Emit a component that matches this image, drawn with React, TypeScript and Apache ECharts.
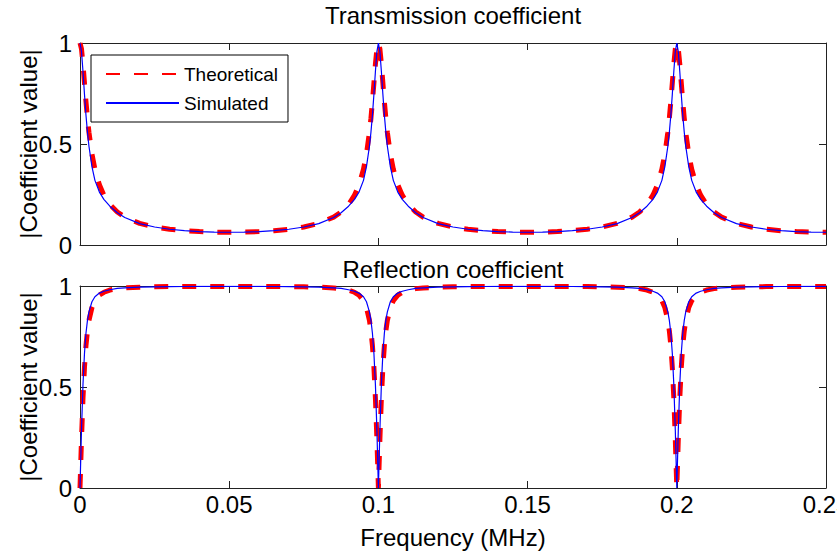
import React, { useEffect, useRef } from "react";
import * as echarts from "echarts";

// Frequency samples (MHz), denser near the resonances
const frequency = [
  0, 0.0005, 0.001, 0.0015, 0.002, 0.0025, 0.003, 0.004, 0.005, 0.0065, 0.008, 0.01, 0.0125, 0.015, 0.02, 0.025, 0.03, 0.035, 0.04, 0.045, 0.05,
  0.055, 0.06, 0.065, 0.07, 0.075, 0.08, 0.085, 0.0875, 0.09, 0.092, 0.0935, 0.095, 0.096, 0.097, 0.0975, 0.098, 0.0985, 0.099, 0.0995, 0.1,
  0.1005, 0.101, 0.1015, 0.102, 0.1025, 0.103, 0.104, 0.105, 0.1065, 0.108, 0.11, 0.1125, 0.115, 0.12, 0.125, 0.13, 0.135, 0.14, 0.145, 0.15,
  0.155, 0.16, 0.165, 0.17, 0.175, 0.18, 0.185, 0.1875, 0.19, 0.192, 0.1935, 0.195, 0.196, 0.197, 0.1975, 0.198, 0.1985, 0.199, 0.1995, 0.2,
  0.2005, 0.201, 0.2015, 0.202, 0.2025, 0.203, 0.204, 0.205, 0.2065, 0.208, 0.21, 0.2125, 0.215, 0.22, 0.225, 0.23, 0.235, 0.24, 0.245, 0.25,
];

const transTheoretical = [
  1, 0.9705, 0.8956, 0.8019, 0.7097, 0.6276, 0.5578, 0.4506, 0.3748, 0.2977, 0.2465, 0.2005, 0.1631, 0.138, 0.107, 0.0891, 0.0779, 0.0708, 0.0664, 0.0639, 0.0631,
  0.0639, 0.0664, 0.0708, 0.0779, 0.0891, 0.107, 0.138, 0.1631, 0.2005, 0.2465, 0.2977, 0.3748, 0.4506, 0.5578, 0.6276, 0.7097, 0.8019, 0.8956, 0.9705, 1,
  0.9705, 0.8956, 0.8019, 0.7097, 0.6276, 0.5578, 0.4506, 0.3748, 0.2977, 0.2465, 0.2005, 0.1631, 0.138, 0.107, 0.0891, 0.0779, 0.0708, 0.0664, 0.0639, 0.0631,
  0.0639, 0.0664, 0.0708, 0.0779, 0.0891, 0.107, 0.138, 0.1631, 0.2005, 0.2465, 0.2977, 0.3748, 0.4506, 0.5578, 0.6276, 0.7097, 0.8019, 0.8956, 0.9705, 1,
  0.9705, 0.8956, 0.8019, 0.7097, 0.6276, 0.5578, 0.4506, 0.3748, 0.2977, 0.2465, 0.2005, 0.1631, 0.138, 0.107, 0.0891, 0.0779, 0.0708, 0.0664, 0.0639, 0.0631,
];

const transSimulated = [
  1, 0.958, 0.859, 0.746, 0.643, 0.558, 0.489, 0.388, 0.32, 0.262, 0.226, 0.192, 0.16, 0.136, 0.106, 0.089, 0.078, 0.071, 0.066, 0.064, 0.063,
  0.064, 0.066, 0.071, 0.078, 0.089, 0.106, 0.136, 0.16, 0.192, 0.226, 0.262, 0.32, 0.388, 0.489, 0.558, 0.643, 0.746, 0.859, 0.958, 1,
  0.958, 0.859, 0.746, 0.643, 0.558, 0.489, 0.388, 0.32, 0.262, 0.226, 0.192, 0.16, 0.136, 0.106, 0.089, 0.078, 0.071, 0.066, 0.064, 0.063,
  0.064, 0.066, 0.071, 0.078, 0.089, 0.106, 0.136, 0.16, 0.192, 0.226, 0.262, 0.32, 0.388, 0.489, 0.558, 0.643, 0.746, 0.859, 0.958, 1,
  0.958, 0.859, 0.746, 0.643, 0.558, 0.489, 0.388, 0.32, 0.262, 0.226, 0.192, 0.16, 0.136, 0.106, 0.089, 0.078, 0.071, 0.066, 0.064, 0.063,
];

const reflTheoretical = [
  0, 0.241, 0.445, 0.597, 0.705, 0.778, 0.83, 0.893, 0.927, 0.955, 0.969, 0.98, 0.987, 0.9905, 0.9943, 0.996, 0.997, 0.9975, 0.9978, 0.998, 0.998,
  0.998, 0.9978, 0.9975, 0.997, 0.996, 0.9943, 0.9905, 0.987, 0.98, 0.969, 0.955, 0.927, 0.893, 0.83, 0.778, 0.705, 0.597, 0.445, 0.241, 0,
  0.241, 0.445, 0.597, 0.705, 0.778, 0.83, 0.893, 0.927, 0.955, 0.969, 0.98, 0.987, 0.9905, 0.9943, 0.996, 0.997, 0.9975, 0.9978, 0.998, 0.998,
  0.998, 0.9978, 0.9975, 0.997, 0.996, 0.9943, 0.9905, 0.987, 0.98, 0.969, 0.955, 0.927, 0.893, 0.83, 0.778, 0.705, 0.597, 0.445, 0.241, 0,
  0.241, 0.445, 0.597, 0.705, 0.778, 0.83, 0.893, 0.927, 0.955, 0.969, 0.98, 0.987, 0.9905, 0.9943, 0.996, 0.997, 0.9975, 0.9978, 0.998, 0.998,
];

const reflSimulated = [
  0, 0.286, 0.512, 0.666, 0.766, 0.83, 0.872, 0.922, 0.947, 0.965, 0.974, 0.9815, 0.988, 0.991, 0.9945, 0.996, 0.997, 0.9975, 0.9978, 0.998, 0.998,
  0.998, 0.9978, 0.9975, 0.997, 0.996, 0.9945, 0.991, 0.988, 0.9815, 0.974, 0.965, 0.947, 0.922, 0.872, 0.83, 0.766, 0.666, 0.512, 0.286, 0,
  0.286, 0.512, 0.666, 0.766, 0.83, 0.872, 0.922, 0.947, 0.965, 0.974, 0.9815, 0.988, 0.991, 0.9945, 0.996, 0.997, 0.9975, 0.9978, 0.998, 0.998,
  0.998, 0.9978, 0.9975, 0.997, 0.996, 0.9945, 0.991, 0.988, 0.9815, 0.974, 0.965, 0.947, 0.922, 0.872, 0.83, 0.766, 0.666, 0.512, 0.286, 0,
  0.286, 0.512, 0.666, 0.766, 0.83, 0.872, 0.922, 0.947, 0.965, 0.974, 0.9815, 0.988, 0.991, 0.9945, 0.996, 0.997, 0.9975, 0.9978, 0.998, 0.998,
];

const xRange = [0, 0.25];
const xStep = 0.05;
const yRange = [0, 1];
const yStep = 0.5;

const titles = ["Transmission coefficient", "Reflection coefficient"];
const seriesNames = ["Theoretical", "Simulated"];
const xName = "Frequency (MHz)";
const yName = "|Coefficient value|";

const FONT = "'Liberation Sans', Arial, Helvetica, sans-serif";
const AXIS = "#222";

export default function App() {
  const ref = useRef<HTMLDivElement>(null);

  useEffect(() => {
    if (!ref.current) return;
    const chart = echarts.init(ref.current, undefined, { renderer: "svg" });
    const pair = (ys: number[]) => frequency.map((f, i) => [f, ys[i]]);

    const grids = [
      { left: 80, top: 43, width: 746, height: 202 },
      { left: 80, top: 286, width: 746, height: 202 },
    ];

    const xAxes: any[] = [];
    const yAxes: any[] = [];
    grids.forEach((_, g) => {
      ["bottom", "top"].forEach((pos) => {
        const showLabels = g === 1 && pos === "bottom";
        xAxes.push({
          type: "value",
          gridIndex: g,
          position: pos,
          min: xRange[0],
          max: xRange[1],
          interval: xStep,
          axisLine: { show: true, onZero: false, lineStyle: { color: AXIS, width: 1 } },
          axisTick: { show: true, inside: true, length: 7, lineStyle: { color: AXIS } },
          axisLabel: {
            show: showLabels,
            color: "#000",
            fontSize: 24,
            fontFamily: FONT,
            margin: 4,
            formatter: (v: number) => String(+v.toFixed(3)),
          },
          splitLine: { show: false },
          name: showLabels ? xName : "",
          nameLocation: "middle",
          nameGap: 37,
          nameMoveOverlap: false,
          nameTextStyle: { color: "#000", fontSize: 24, fontFamily: FONT },
        });
      });
      ["left", "right"].forEach((pos) => {
        const showLabels = pos === "left";
        yAxes.push({
          type: "value",
          gridIndex: g,
          position: pos,
          min: yRange[0],
          max: yRange[1],
          interval: yStep,
          axisLine: { show: true, onZero: false, lineStyle: { color: AXIS, width: 1 } },
          axisTick: { show: true, inside: true, length: 7, lineStyle: { color: AXIS } },
          axisLabel: {
            show: showLabels,
            color: "#000",
            fontSize: 24,
            fontFamily: FONT,
            margin: 8,
            formatter: (v: number) => String(+v.toFixed(2)),
          },
          splitLine: { show: false },
          name: showLabels ? yName : "",
          nameLocation: "middle",
          nameRotate: 90,
          nameGap: 40,
          nameMoveOverlap: false,
          nameTextStyle: { color: "#000", fontSize: 24, fontFamily: FONT },
        });
      });
    });

    const mk = (name: string, data: number[], g: number, theo: boolean) => ({
      type: "line",
      name,
      xAxisIndex: g * 2,
      yAxisIndex: g * 2,
      data: pair(data),
      symbol: "none",
      showSymbol: false,
      smooth: false,
      clip: true,
      z: theo ? 2 : 3,
      lineStyle: theo
        ? { color: "#ff0000", width: 5, type: [14, 14], cap: "butt" }
        : { color: "#0000ff", width: 1.2, type: "solid" },
      itemStyle: { color: theo ? "#ff0000" : "#0000ff" },
    });

    chart.setOption({
      animation: false,
      backgroundColor: "#ffffff",
      textStyle: { fontFamily: FONT },
      title: titles.map((t, i) => ({
        text: t,
        left: 453,
        top: i === 0 ? 3 : 257,
        textAlign: "center",
        padding: 0,
        textStyle: { color: "#000", fontSize: 24, fontWeight: "normal", fontFamily: FONT },
      })),
      legend: {
        data: seriesNames,
        left: 91,
        top: 55,
        orient: "vertical",
        itemWidth: 73,
        itemHeight: 14,
        itemGap: 9,
        padding: [9, 10, 9, 14],
        backgroundColor: "#fff",
        borderColor: "#000",
        borderWidth: 1,
        borderRadius: 0,
        selectedMode: false,
        itemStyle: { opacity: 0, borderWidth: 0 },
        textStyle: { color: "#000", fontSize: 19, fontFamily: FONT, lineHeight: 20 },
      },
      grid: grids.map((g) => ({ ...g, show: false, containLabel: false, outerBoundsMode: "none" })),
      xAxis: xAxes,
      yAxis: yAxes,
      series: [
        mk(seriesNames[0], transTheoretical, 0, true),
        mk(seriesNames[1], transSimulated, 0, false),
        mk(seriesNames[0], reflTheoretical, 1, true),
        mk(seriesNames[1], reflSimulated, 1, false),
      ],
    });

    return () => chart.dispose();
  }, []);

  return (
    <div
      ref={ref}
      style={{ position: "fixed", left: 0, top: 0, width: 837, height: 556, background: "#fff" }}
    />
  );
}
